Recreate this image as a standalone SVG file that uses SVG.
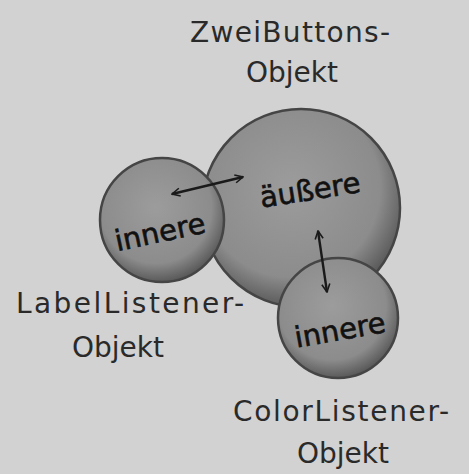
<svg xmlns="http://www.w3.org/2000/svg" width="469" height="474" viewBox="0 0 469 474">
<defs>
<radialGradient id="ball" cx="0.45" cy="0.4" r="0.6">
<stop offset="0" stop-color="#9c9c9c"/>
<stop offset="0.75" stop-color="#8c8c8c"/>
<stop offset="1" stop-color="#5a5a5a"/>
</radialGradient>
<marker id="ah" viewBox="0 0 10 10" refX="9" refY="5" markerWidth="10" markerHeight="10" orient="auto-start-reverse" markerUnits="userSpaceOnUse">
<path d="M1,1 L9,5 L1,9" fill="none" stroke="#1a1a1a" stroke-width="1.6"/>
</marker>
</defs>
<style>
.lbl{font-family:"DejaVu Sans","Liberation Sans",sans-serif;font-size:28px;fill:#2a2a2a;text-anchor:middle}
.in{font-family:"DejaVu Sans","Liberation Sans",sans-serif;font-size:29px;fill:#111111;stroke:#111111;stroke-width:0.6;text-anchor:middle}
.ball{fill:url(#ball);stroke:#454545;stroke-width:2.5}
.arr{stroke:#1a1a1a;stroke-width:2.4;fill:none;marker-start:url(#ah);marker-end:url(#ah)}
</style>
<rect width="469" height="474" fill="#d2d2d2"/>
<g id="zweibuttons">
<circle class="ball" cx="301" cy="208" r="99"/>
<text class="in" x="310" y="200" transform="rotate(-9 310 190)">äußere</text>
<text class="lbl" x="290" y="42" textLength="200">ZweiButtons-</text>
<text class="lbl" x="292" y="82">Objekt</text>
</g>
<g id="labellistener">
<circle class="ball" cx="162" cy="220" r="62"/>
<text class="in" x="160" y="242" transform="rotate(-12 160 232)">innere</text>
<text class="lbl" x="130" y="313" textLength="228">LabelListener-</text>
<text class="lbl" x="118" y="357">Objekt</text>
</g>
<g id="colorlistener">
<circle class="ball" cx="338" cy="318" r="60"/>
<text class="in" x="340" y="340" transform="rotate(-10 340 330)">innere</text>
<text class="lbl" x="341" y="421" textLength="216">ColorListener-</text>
<text class="lbl" x="343" y="463">Objekt</text>
</g>
<g id="connectors">
<line class="arr" x1="172" y1="194" x2="243" y2="177"/>
<line class="arr" x1="318" y1="231" x2="327" y2="292"/>
</g>
</svg>
